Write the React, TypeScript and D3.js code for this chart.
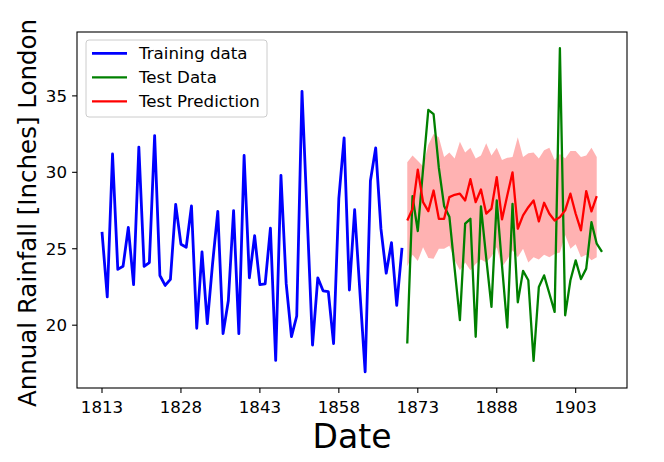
import React from "react";
import * as d3 from "d3";

const trainStart = 1813;
const trainValues = [
  26.1, 21.85, 31.2, 23.65, 23.85, 26.4, 22.65, 31.65, 23.85, 24.1,
  32.4, 23.25, 22.6, 23.0, 27.9, 25.3, 25.1, 27.8, 19.8, 24.8,
  20.1, 24.0, 27.45, 19.45, 21.6, 27.5, 19.45, 31.1, 23.1, 25.85,
  22.65, 22.7, 26.35, 17.7, 29.8, 22.7, 19.25, 20.6, 35.3, 27.0,
  18.7, 23.1, 22.25, 22.2, 18.8, 28.3, 32.25, 22.3, 27.55, 22.2,
  16.95, 29.45, 31.6, 26.3, 23.4, 25.4, 21.3, 25.05,
];
const testStart = 1871;
const testValues = [
  18.8, 28.44, 26.16, 30.2, 34.08, 33.8, 30.3, 27.8, 27.1, 23.7,
  20.33, 26.64, 26.96, 19.24, 27.77, 24.4, 21.2, 28.16, 23.9, 19.85,
  27.94, 21.5, 23.55, 22.94, 17.67, 22.5, 23.26, 22.07, 20.87, 38.12,
  20.65, 22.94, 24.24, 23.02, 23.7, 26.74, 25.33, 24.79,
];
const predValues = [
  26.85, 27.61, 30.18, 28.05, 27.46, 28.81, 26.96, 26.96, 28.38, 28.53,
  28.6, 28.16, 29.55, 28.05, 28.88, 27.3, 27.63, 29.68, 26.92, 28.49,
  30.0, 26.31, 27.18, 27.72, 28.16, 26.79, 28.01, 27.29, 26.85, 27.07,
  27.51, 28.6, 27.29, 26.2, 28.77, 27.44, 28.44,
];
const predUpper = [
  30.66, 31.1, 30.75, 30.4, 31.8, 32.5, 32.3, 31.0, 31.3, 30.9,
  32.0, 31.3, 31.6, 30.9, 31.1, 31.9, 31.1, 31.6, 30.8, 30.95,
  31.0, 32.3, 31.0, 31.25, 31.3, 30.9, 31.45, 31.6, 30.8, 31.2,
  30.9, 31.4, 31.4, 31.0, 31.1, 31.6, 31.0,
];
const predLower = [
  23.85, 24.6, 24.2, 25.1, 24.4, 24.35, 25.0, 25.0, 25.2, 24.25,
  23.6, 24.1, 23.6, 24.0, 24.3, 24.1, 24.5, 25.1, 23.8, 24.3,
  24.9, 24.45, 25.0, 24.1, 24.45, 24.3, 24.6, 24.45, 24.65, 24.75,
  25.9, 25.0, 25.3, 24.45, 24.6, 24.25, 24.45,
];
const xTicks = [1813, 1828, 1843, 1858, 1873, 1888, 1903];
const yTicks = [20, 25, 30, 35];
const legendLabels = ["Training data", "Test Data", "Test Prediction"];
const legendColors = ["#0000ff", "#008000", "#ff0000"];

const W = 664;
const H = 462;
const left = 77;
const right = 627;
const top = 32;
const bottom = 388;
const FONT = "DejaVu Sans, sans-serif";

export default function App() {
  const train = trainValues.map((v, i) => ({ x: trainStart + i, y: v }));
  const test = testValues.map((v, i) => ({ x: testStart + i, y: v }));
  const pred = predValues.map((v, i) => ({
    x: testStart + i,
    y: v,
    lo: predLower[i],
    hi: predUpper[i],
  }));

  const allX = [...train, ...test].map((d) => d.x);
  const [x0, x1] = d3.extent(allX) as [number, number];
  const xm = (x1 - x0) * 0.05;
  const allY = [...train, ...test, ...pred].map((d) => d.y);
  const [y0, y1] = d3.extent(allY) as [number, number];
  const ym = (y1 - y0) * 0.05;

  const x = d3.scaleLinear().domain([x0 - xm, x1 + xm]).range([left, right]);
  const y = d3.scaleLinear().domain([y0 - ym, y1 + ym]).range([bottom, top]);

  const line = d3
    .line<{ x: number; y: number }>()
    .x((d) => x(d.x))
    .y((d) => y(d.y));
  const area = d3
    .area<{ x: number; lo: number; hi: number }>()
    .x((d) => x(d.x))
    .y0((d) => y(d.lo))
    .y1((d) => y(d.hi));

  const legX = 86;
  const legY = 40;
  const legW = 181;
  const legH = 77;

  return (
    <svg
      width={W}
      height={H}
      style={{ position: "absolute", left: 0, top: 0, background: "#fff" }}
      fontFamily={FONT}
    >
      <rect x={0} y={0} width={W} height={H} fill="#fff" />
      <defs>
        <clipPath id="plotclip">
          <rect x={left} y={top} width={right - left} height={bottom - top} />
        </clipPath>
      </defs>
      <g clipPath="url(#plotclip)">
        <path d={area(pred) || ""} fill="#ff0000" fillOpacity={0.3} stroke="none" />
        <path d={line(train) || ""} fill="none" stroke="#0000ff" strokeWidth={2.8} strokeLinejoin="round" />
        <path d={line(test) || ""} fill="none" stroke="#008000" strokeWidth={2.3} strokeLinejoin="round" />
        <path d={line(pred) || ""} fill="none" stroke="#ff0000" strokeWidth={2.3} strokeLinejoin="round" />
      </g>
      {/* spines */}
      <rect x={left} y={top} width={right - left} height={bottom - top} fill="none" stroke="#000" strokeWidth={1.1} />
      {/* x ticks */}
      {xTicks.map((t) => (
        <g key={t}>
          <line x1={x(t)} x2={x(t)} y1={bottom} y2={bottom + 4.9} stroke="#000" strokeWidth={1.1} />
          <text x={x(t)} y={412.5} fontSize={16.67} textAnchor="middle" fill="#000">
            {t}
          </text>
        </g>
      ))}
      {/* y ticks */}
      {yTicks.map((t) => (
        <g key={t}>
          <line x1={left - 4.9} x2={left} y1={y(t)} y2={y(t)} stroke="#000" strokeWidth={1.1} />
          <text x={left - 10} y={y(t) + 6} fontSize={16.67} textAnchor="end" fill="#000">
            {t}
          </text>
        </g>
      ))}
      <text x={(left + right) / 2} y={448} fontSize={33} textAnchor="middle" fill="#000">
        Date
      </text>
      <text
        transform={`translate(36, ${(top + bottom) / 2 + 3}) rotate(-90)`}
        fontSize={24.5}
        textAnchor="middle"
        fill="#000"
      >
        Annual Rainfall [Inches] London
      </text>
      {/* legend */}
      <rect
        x={legX}
        y={legY}
        width={legW}
        height={legH}
        rx={3}
        ry={3}
        fill="#fff"
        fillOpacity={0.8}
        stroke="#cccccc"
        strokeWidth={1}
      />
      {legendLabels.map((lab, i) => {
        const cy = 53.3 + i * 24;
        return (
          <g key={lab}>
            <line
              x1={92}
              x2={127}
              y1={cy}
              y2={cy}
              stroke={legendColors[i]}
              strokeWidth={i === 0 ? 2.8 : 2.3}
            />
            <text x={139} y={cy + 6} fontSize={16.67} fill="#000">
              {lab}
            </text>
          </g>
        );
      })}
    </svg>
  );
}
